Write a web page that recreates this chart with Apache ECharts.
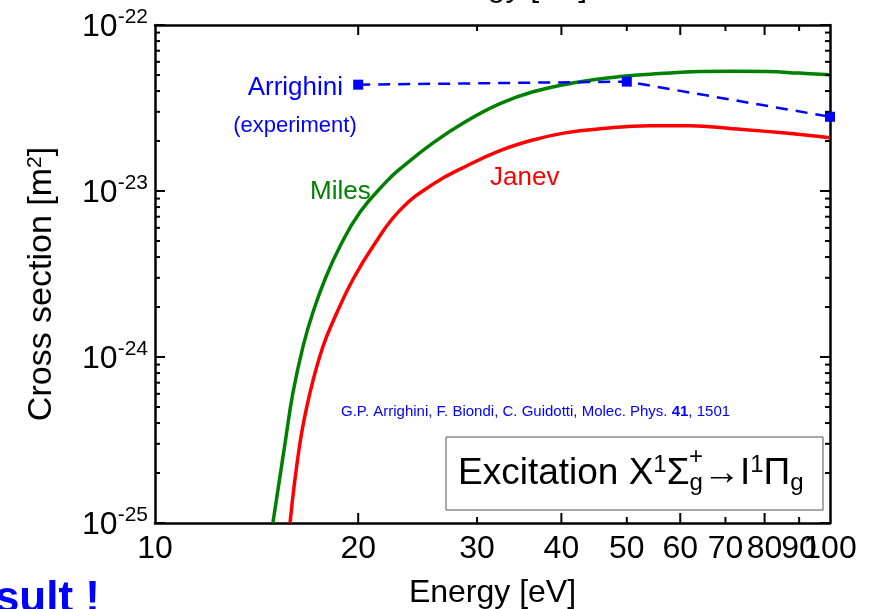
<!DOCTYPE html>
<html>
<head>
<meta charset="utf-8">
<title>Excitation cross section</title>
<script src="https://cdn.jsdelivr.net/npm/echarts@6/dist/echarts.min.js"></script>
<style>
  * { margin: 0; padding: 0 }
  html, body { width: 100%; height: 100%; background: #fff; }
  #main { width: 887px; height: 609px; }
</style>
</head>
<body>
<div id="main"></div>
<script>
// energies [eV] and cross sections [m^2]
var milesE = [14.95, 15.58, 16.01, 16.57, 17.14, 17.86, 18.80, 20.13, 22.07, 23.07, 25.82, 28.99, 32.45, 36.31, 42, 48.86, 56, 64.2, 72, 80.7, 90, 100];
var milesS = [1.0e-25, 3.0e-25, 6.1e-25, 1.16e-24, 1.86e-24, 2.94e-24, 4.65e-24, 7.47e-24, 1.15e-23, 1.36e-23, 1.95e-23, 2.65e-23, 3.36e-23, 3.96e-23, 4.5e-23, 4.89e-23, 5.1e-23, 5.24e-23, 5.26e-23, 5.24e-23, 5.13e-23, 5.02e-23];

var janevE = [15.85, 16.40, 16.97, 17.74, 18.61, 19.65, 21.04, 23.07, 25.82, 28.99, 32.45, 36.31, 40.5, 45.63, 54.1, 62, 71.8, 85, 100];
var janevS = [1.0e-25, 3.04e-25, 6.1e-25, 1.16e-24, 1.86e-24, 2.94e-24, 4.65e-24, 7.67e-24, 1.10e-23, 1.42e-23, 1.75e-23, 2.03e-23, 2.24e-23, 2.37e-23, 2.47e-23, 2.47e-23, 2.37e-23, 2.24e-23, 2.09e-23];

var arrE = [20, 50, 100];
var arrS = [4.37e-23, 4.56e-23, 2.80e-23];

var xTickLabels = [10, 20, 30, 40, 50, 60, 70, 80, 90, 100];
var xLongTicks = [20, 40, 60, 80];
var xShortTicks = [30, 50, 70, 90];
var yDecades = [-25, -24, -23];
var yMinorFactors = [2, 3, 4, 5, 6, 7, 8, 9];

// the y axis works in units of 1e-25 m^2 (ECharts rounds values as tiny as 1e-25 to zero)
var UNIT = 1e-25, UNIT_EXP = -25;

var FONT = '"Liberation Sans", Arial, Helvetica, sans-serif';

function pairs(xs, ys) {
  var out = [];
  for (var i = 0; i < xs.length; i++) out.push([xs[i], ys[i] / UNIT]);
  return out;
}

var xTickData = [];
xTickLabels.forEach(function (v) {
  var kind = xLongTicks.indexOf(v) >= 0 ? 2 : (xShortTicks.indexOf(v) >= 0 ? 1 : 0);
  xTickData.push([v, 1, kind]);
});
var yMinorData = [];
yDecades.forEach(function (d) {
  yMinorFactors.forEach(function (f) {
    yMinorData.push([10, f * Math.pow(10, d - UNIT_EXP)]);
  });
});

var chart = echarts.init(document.getElementById('main'));

chart.setOption({
  animation: false,
  backgroundColor: '#fff',
  grid: { left: 155, right: 57, top: 25, bottom: 86, containLabel: false, outerBoundsMode: 'none' },
  xAxis: [{
    type: 'log', logBase: 10, min: 10, max: 100, position: 'bottom',
    axisLine: { lineStyle: { color: '#000', width: 2.5 } },
    axisTick: { show: false }, axisLabel: { show: false }, splitLine: { show: false },
    name: 'Energy [eV]', nameLocation: 'middle', nameGap: 54,
    nameTextStyle: { fontFamily: FONT, fontSize: 32, color: '#000' }
  }, {
    type: 'log', logBase: 10, min: 10, max: 100, position: 'top',
    axisLine: { lineStyle: { color: '#000', width: 2.5 } },
    axisTick: { show: false }, axisLabel: { show: false }, splitLine: { show: false }
  }],
  yAxis: [{
    type: 'log', logBase: 10, min: 1, max: 1000, position: 'left',
    axisLine: { lineStyle: { color: '#000', width: 2.5 } },
    axisTick: { inside: true, length: 10, lineStyle: { color: '#000', width: 2 } },
    splitLine: { show: false },
    axisLabel: {
      margin: 7,
      formatter: function (v) {
        return '{b|10}{s|' + (Math.round(Math.log10(v)) + UNIT_EXP) + '}';
      },
      rich: {
        b: { fontFamily: FONT, fontSize: 32, color: '#000', verticalAlign: 'bottom', lineHeight: 36 },
        s: { fontFamily: FONT, fontSize: 21, color: '#000', verticalAlign: 'top', lineHeight: 36, padding: [0, 0, 12, 0] }
      }
    },
    name: 'Cross section [m{s|2}]', nameLocation: 'middle', nameGap: 96, nameRotate: 90,
    nameTextStyle: {
      fontFamily: FONT, fontSize: 34, color: '#000', padding: [0, 20, 0, 0],
      rich: { s: { fontFamily: FONT, fontSize: 21, color: '#000', verticalAlign: 'top', padding: [0, 0, 12, 0] } }
    }
  }, {
    type: 'log', logBase: 10, min: 1, max: 1000, position: 'right',
    axisLine: { lineStyle: { color: '#000', width: 2.5 } },
    axisTick: { inside: true, length: 10, lineStyle: { color: '#000', width: 2 } },
    axisLabel: { show: false }, splitLine: { show: false }
  }],
  series: [{
    name: 'Miles', type: 'line', data: pairs(milesE, milesS),
    showSymbol: false, smooth: 0.45,
    lineStyle: { color: '#008000', width: 3.5 }, z: 3
  }, {
    name: 'Janev', type: 'line', data: pairs(janevE, janevS),
    showSymbol: false, smooth: 0.45,
    lineStyle: { color: '#ff0000', width: 3.5 }, z: 3
  }, {
    name: 'Arrighini', type: 'line', data: pairs(arrE, arrS),
    symbol: 'rect', symbolSize: 10, itemStyle: { color: '#0000ff' },
    lineStyle: { color: '#0000ff', width: 2.5, type: [12, 8] }, z: 4
  }, {
    // x ticks (bottom + top) and their labels
    type: 'custom', data: xTickData, z: 10, silent: true,
    renderItem: function (params, api) {
      var v = api.value(0), kind = api.value(2);
      var b = api.coord([v, 1]);
      var t = api.coord([v, 1000]);
      var len = kind === 2 ? 10 : 6;
      var children = [{
        type: 'text', x: b[0], y: b[1] + 26,
        style: { text: String(v), font: '32px ' + FONT, fill: '#000', align: 'center', verticalAlign: 'middle' }
      }];
      if (kind > 0) {
        children.push({ type: 'line', shape: { x1: b[0], y1: b[1], x2: b[0], y2: b[1] - len }, style: { stroke: '#000', lineWidth: 2 } });
        children.push({ type: 'line', shape: { x1: t[0], y1: t[1], x2: t[0], y2: t[1] + len }, style: { stroke: '#000', lineWidth: 2 } });
      }
      return { type: 'group', children: children };
    }
  }, {
    // y minor ticks (left + right)
    type: 'custom', data: yMinorData, z: 10, silent: true,
    renderItem: function (params, api) {
      var l = api.coord([10, api.value(1)]);
      var r = api.coord([100, api.value(1)]);
      return { type: 'group', children: [
        { type: 'line', shape: { x1: l[0], y1: l[1], x2: l[0] + 5, y2: l[1] }, style: { stroke: '#000', lineWidth: 2 } },
        { type: 'line', shape: { x1: r[0], y1: r[1], x2: r[0] - 5, y2: r[1] }, style: { stroke: '#000', lineWidth: 2 } }
      ] };
    }
  }],
  graphic: [
    { type: 'text', left: 420, top: -29, style: { text: 'Energy [eV]', font: '32px ' + FONT, fill: '#000' } },
    { type: 'text', x: 343, y: 88, style: { text: 'Arrighini', font: '26px ' + FONT, fill: '#0000ff', align: 'right', verticalAlign: 'middle' } },
    { type: 'text', x: 295, y: 126, style: { text: '(experiment)', font: '22px ' + FONT, fill: '#0000ff', align: 'center', verticalAlign: 'middle' } },
    { type: 'text', x: 310, y: 192, style: { text: 'Miles', font: '26px ' + FONT, fill: '#008000', verticalAlign: 'middle' } },
    { type: 'text', x: 490, y: 178, style: { text: 'Janev', font: '26px ' + FONT, fill: '#ff0000', verticalAlign: 'middle' } },
    { type: 'text', x: 341, y: 412, style: {
      text: 'G.P. Arrighini, F. Biondi, C. Guidotti, Molec. Phys. {b|41}, 1501',
      font: '15px ' + FONT, fill: '#0000ff', verticalAlign: 'middle',
      rich: { b: { fontFamily: FONT, fontSize: 15, fontWeight: 'bold', fill: '#0000ff' } }
    } },
    { type: 'rect', shape: { x: 446, y: 437, width: 377, height: 73 }, style: { fill: '#fff', stroke: '#555', lineWidth: 1 }, z: 20 },
    { type: 'text', x: 458, y: 474, z: 21, style: {
      text: 'Excitation X{sup|1}\u03A3{sub|g}\u2192I{sup|1}\u03A0{sub|g}',
      font: '37px ' + FONT, fill: '#000', verticalAlign: 'middle',
      rich: {
        sup: { fontFamily: FONT, fontSize: 24, fill: '#000', verticalAlign: 'top', padding: [0, 0, 18, 0] },
        sub: { fontFamily: FONT, fontSize: 24, fill: '#000', verticalAlign: 'bottom', padding: [18, 0, 0, 0] }
      }
    } },
    { type: 'text', x: 689, y: 445, z: 22, style: { text: '+', font: '24px ' + FONT, fill: '#000' } },
    { type: 'text', x: 100, y: 578, style: { text: 'Result !', font: 'bold 44px ' + FONT, fill: '#0000ff', align: 'right' } }
  ]
});
</script>
</body>
</html>
